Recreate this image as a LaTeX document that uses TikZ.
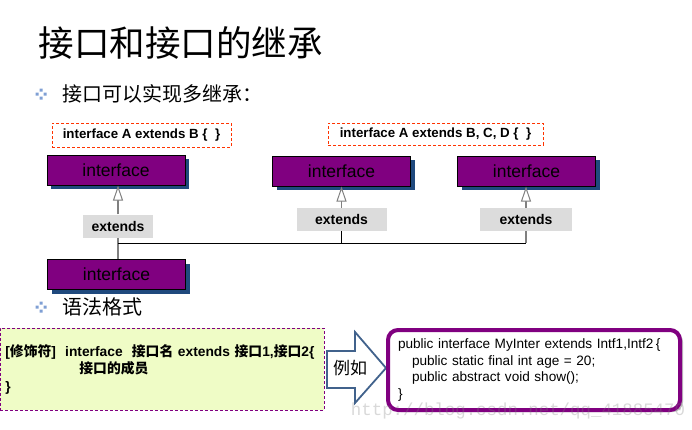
\documentclass[tikz,border=0pt]{standalone}
\usepackage{fontspec}
\setmainfont{Liberation Sans}
\setmonofont{Liberation Mono}
\newfontfamily\cjk{Noto Sans CJK SC}
\usetikzlibrary{positioning}
\usetikzlibrary{arrows.meta}
\usetikzlibrary{shadows}

\definecolor{ifpurple}{HTML}{800080}
\definecolor{shadowblue}{HTML}{1F497D}
\definecolor{labelgray}{HTML}{DCDCDC}
\definecolor{dashred}{HTML}{FF3300}
\definecolor{syntaxfill}{HTML}{EFFCC6}
\definecolor{bulletblue}{HTML}{7F9FD4}
\definecolor{arrowblue}{HTML}{41628C}

\begin{document}
\begin{tikzpicture}[x=1pt,y=-1pt,
  iface/.style={draw=black, line width=1pt, fill=ifpurple, minimum width=138pt, minimum height=30pt,
    inner sep=0pt, font=\fontsize{17.5}{17.5}\selectfont,
    general shadow={shadow xshift=4pt, shadow yshift=-4pt, fill=shadowblue}},
  extlabel/.style={fill=labelgray, minimum height=23pt, inner sep=0pt, font=\bfseries\fontsize{14}{14}\selectfont},
  codenote/.style={draw=dashred, dash pattern=on 3pt off 2pt, inner sep=0pt, font=\bfseries\fontsize{13.3}{13.3}\selectfont},
  gen/.style={draw=gray, line width=1.5pt},
  genarrow/.style={gen, -{Triangle[open, fill=white, length=15pt, width=10pt, line width=1pt]}},
  bullettext/.style={anchor=west, font=\cjk\fontsize{20}{20}\selectfont}]

\useasboundingbox (0,0) rectangle (692,429);

% Title and bullets
\node[anchor=west, font=\cjk\fontsize{35.5}{35.5}\selectfont] (title) at (35,43) {接口和接口的继承};
\foreach \by in {94,307}
{
\fill[bulletblue] (39.5,\by-5.5) rectangle ++(3,3) (39.5,\by+2.5) rectangle ++(3,3)
  (35.5,\by-1.5) rectangle ++(3,3) (43.5,\by-1.5) rectangle ++(3,3);
}
\node[bullettext] (multi) at (59,94) {接口可以实现多继承：};
\node[bullettext] (syntaxhead) at (59,307) {语法格式};

% Code notes above the boxes
\node[codenote, minimum width=179pt, minimum height=24pt] (noteone) at (141.5,135) {interface A extends B \{\ \ \}};
\node[codenote, minimum width=215pt, minimum height=22pt] (notethree) at (435.5,134) {interface A extends B, C, D \{\ \ \}};

% Interface boxes
\node[iface] (ifa) at (116,170) {interface};
\node[iface] (ifb) at (341.5,171) {interface};
\node[iface] (ifc) at (526.5,171) {interface};
\node[iface] (ifchild) at (116.5,274.5) {interface};

% extends labels
\node[extlabel, minimum width=70pt] (extone) at (118,226) {extends};
\node[extlabel, minimum width=90pt] (exttwo) at (341.5,219.5) {extends};
\node[extlabel, minimum width=92pt] (extthree) at (526,219.5) {extends};

% Connectors
\coordinate (join) at (118,243);
\draw[gen] (ifchild.north -| extone) -- (extone.south);
\draw[genarrow] (extone.north) -- (ifa.south -| extone);
\draw[line width=1pt] (join) -- (join -| extthree);
\draw[line width=1pt] (join -| exttwo) -- (exttwo.south);
\draw[genarrow] (exttwo.north) -- (ifb.south -| exttwo);
\draw[gen] (join -| extthree) -- (extthree.south);
\draw[genarrow] (extthree.north) -- (ifc.south -| extthree);

% Syntax box
\node[draw=ifpurple, dash pattern=on 3pt off 2pt, line width=0.8pt, fill=syntaxfill, anchor=west,
  text width=314pt, inner xsep=5pt, minimum height=82pt, align=left,
  font=\bfseries\fontsize{13.8}{17.5}\selectfont] (syntax) at (0,369)
  {[{\cjk 修饰符}]\ \ interface\ \ {\cjk 接口名} extends {\cjk 接口}1,{\cjk 接口}2\{\\
   \hspace*{74pt}{\cjk 接口的成员}\\
   \}};

% Block arrow
\draw[arrowblue, line width=1.8pt, fill=white, line join=miter]
  (327,351) -- (355,351) -- (355,332) -- (386,368) -- (355,403) -- (355,388) -- (327,388) -- cycle;
\node[font=\cjk\fontsize{17}{17}\selectfont] (eg) at (350,368) {例如};

% Example code
\node[draw=ifpurple, line width=4pt, rounded corners=10pt, fill=white,
  text width=272pt, inner xsep=10pt, minimum height=80pt, align=left,
  font=\fontsize{13.6}{16.7}\selectfont,
  general shadow={shadow xshift=3pt, shadow yshift=-2pt, fill=gray!50}] (code) at (534,370)
  {public interface MyInter extends Intf1,Intf2\,\{\\
   \hspace*{14pt}public static final int age = 20;\\
   \hspace*{14pt}public abstract void show();\\
   \}};

% Watermark
\node[font=\ttfamily\fontsize{17.4}{17.4}\selectfont, text=gray, opacity=0.3] (mark) at (518,411)
  {http://blog.csdn.net/qq\_41885470};

\end{tikzpicture}
\end{document}
